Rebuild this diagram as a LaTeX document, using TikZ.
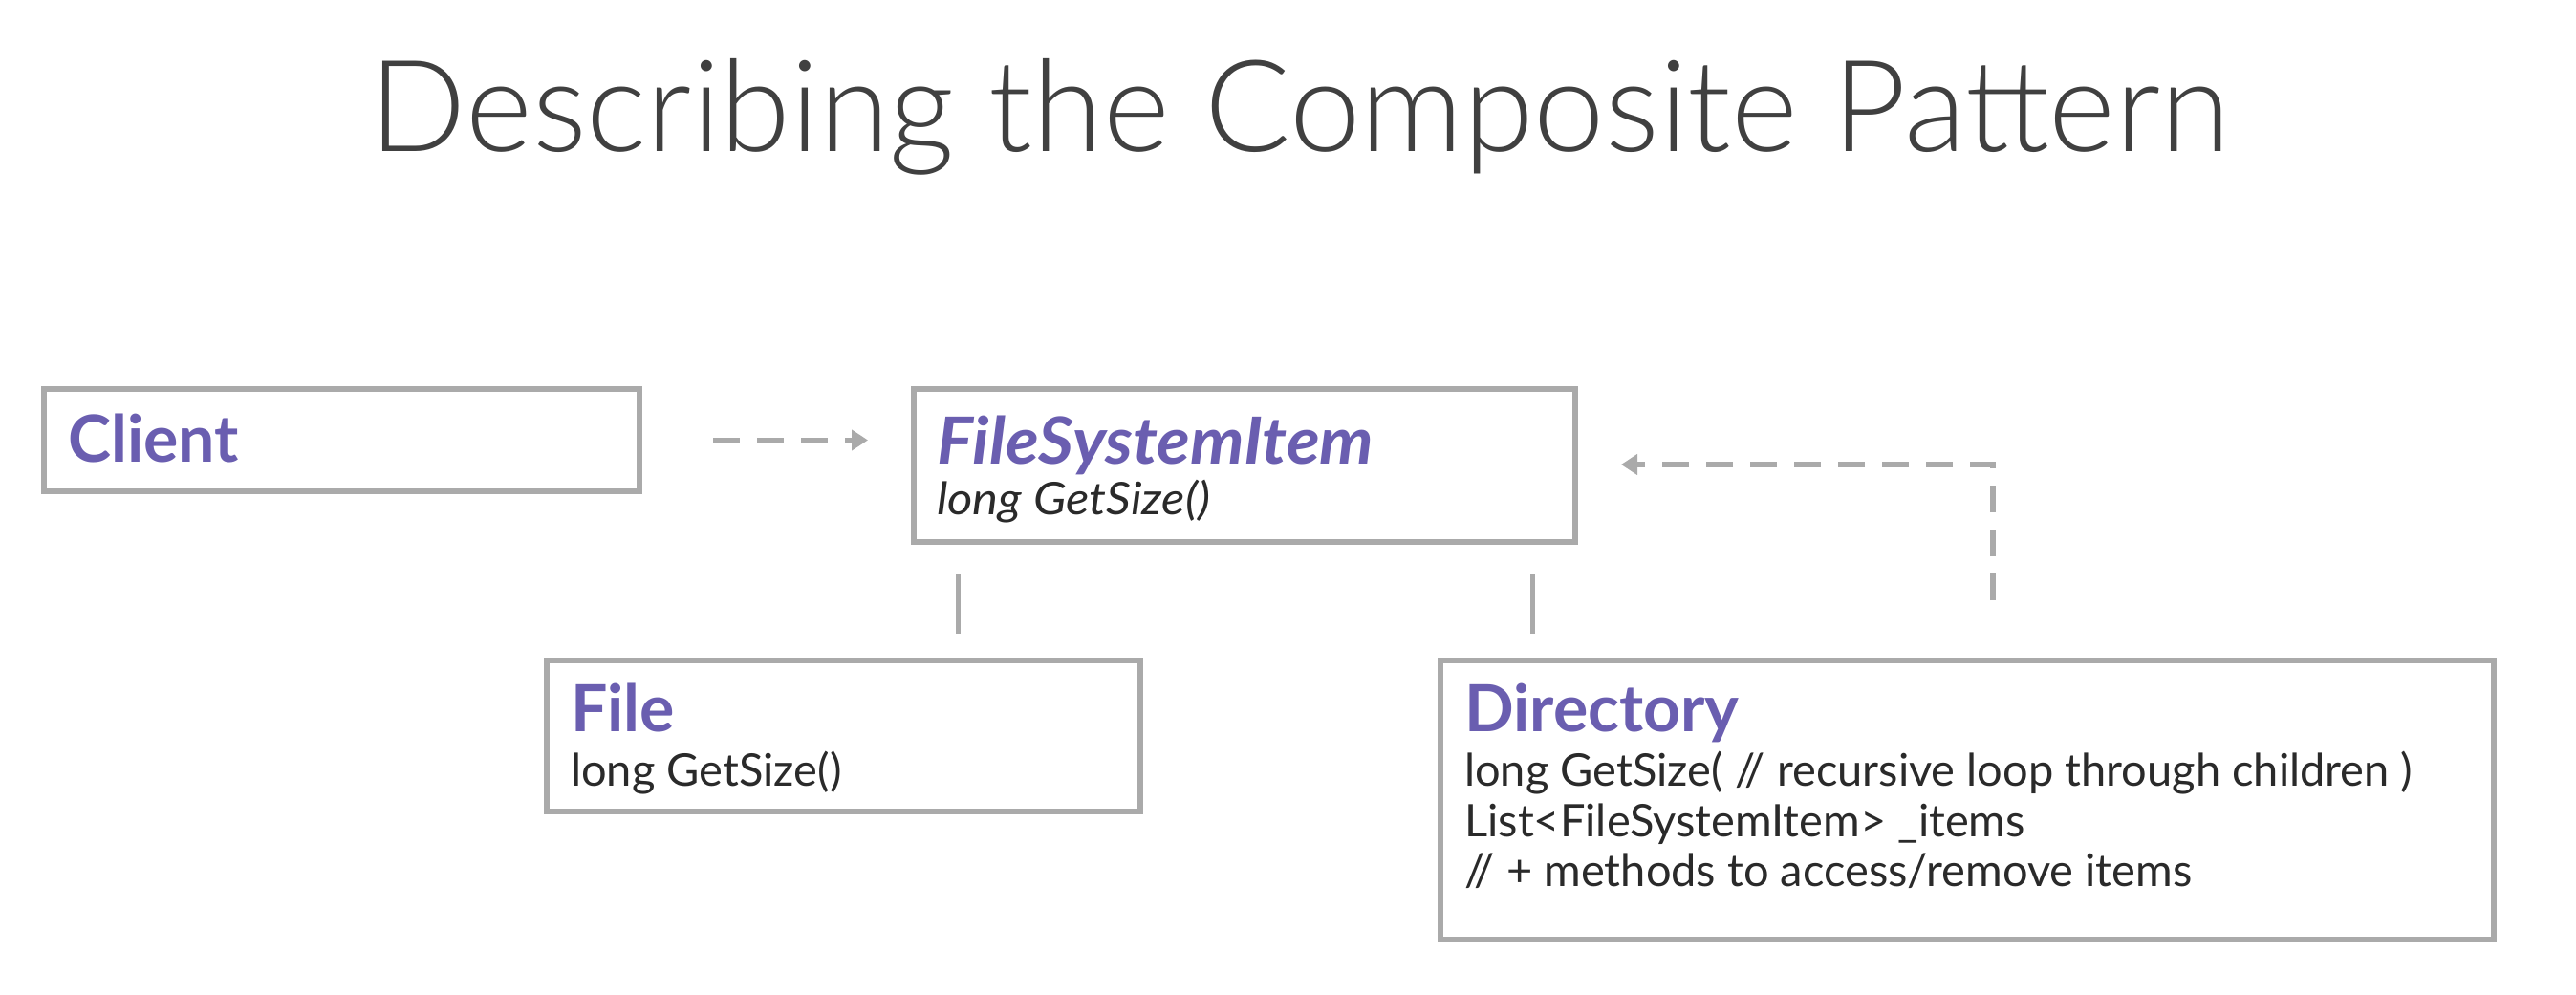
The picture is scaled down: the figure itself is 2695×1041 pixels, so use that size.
\documentclass[tikz,border=0pt]{standalone}
\usepackage{fontspec}
\setmainfont{Lato}
\newfontfamily\titlefont{Lato Light}
\usetikzlibrary{arrows.meta,calc}

\definecolor{hdpurple}{HTML}{6A5EB0}
\definecolor{linegray}{HTML}{AAAAAA}
\definecolor{titlegray}{HTML}{404040}
\definecolor{bodytext}{HTML}{2A2A2A}

\begin{document}
\begin{tikzpicture}[x=1pt,y=-1pt,
  classbox/.style={draw=linegray, line width=6pt, fill=white, inner sep=0pt},
  header/.style={anchor=base west, inner sep=0pt, text=hdpurple,
    font=\fontsize{68}{75}\selectfont\bfseries},
  member/.style={anchor=base west, inner sep=0pt, text=bodytext,
    font=\fontsize{47}{54}\selectfont},
  usage/.style={draw=linegray, line width=6pt, dash pattern=on 28pt off 18pt,
    -{Triangle[length=17pt,width=21pt]}},
  inherit/.style={draw=linegray, line width=5pt}
]
\useasboundingbox (0,0) rectangle (2695,1041);

% title
\node[anchor=base, inner sep=0pt, text=titlegray,
  font=\titlefont\fontsize{133.5}{140}\selectfont] (title) at (1360,158)
  {Describing the Composite Pattern};

% class boxes
\node[classbox, minimum width=623pt, minimum height=107pt] (client) at (357.5,460.5) {};
\node[classbox, minimum width=692pt, minimum height=160pt] (fsi) at (1302,487) {};
\node[classbox, minimum width=621pt, minimum height=158pt] (file) at (882.5,770) {};
\node[classbox, minimum width=1102pt, minimum height=292pt] (dir) at (2058,837) {};

% class names and members
\node[header] (clientname) at ($(client.north west)+(28,79)$) {Client};

\node[header, font=\fontsize{68}{75}\selectfont\bfseries\itshape\addfontfeature{FakeStretch=1.05}] (fsiname)
  at ($(fsi.north west)+(27,81)$) {FileSystemItem};
\node[member, font=\fontsize{47}{54}\selectfont\itshape\addfontfeature{FakeStretch=1.08}] (fsisize)
  at ($(fsi.north west)+(27,134)$) {long GetSize()};

\node[header] (filename) at ($(file.north west)+(28,77)$) {File};
\node[member] (filesize) at ($(file.north west)+(28,134)$) {long GetSize()};

\node[header] (dirname) at ($(dir.north west)+(28,77)$) {Directory};
\node[member] (dirsize) at ($(dir.north west)+(28,134)$)
  {long GetSize( // recursive loop through children )};
\node[member] (diritems) at ($(dir.north west)+(28,187)$)
  {List<FileSystemItem> \_items};
\node[member] (dirmethods) at ($(dir.north west)+(28,239)$)
  {// + methods to access/remove items};

% client uses the component interface
\coordinate (clientout) at ($(client.east)+(74,0)$);
\coordinate (fsiin) at ($(fsi.west |- client.east)+(-45,0)$);
\draw[usage] (clientout) -- (fsiin);

% leaf and composite both derive from the component
\coordinate (fsileafdown) at ($(fsi.south west)+(49,31)$);
\coordinate (leafup) at ($(file.north west |- fsi.south west)+(433,93)$);
\draw[inherit] (fsileafdown) -- (fsileafdown |- leafup);

\coordinate (fsicompdown) at ($(fsi.south east)+(-48,31)$);
\draw[inherit] (fsicompdown) -- ++(0,62);

% composite holds a list of components
\coordinate (dirup) at ($(dir.north west)+(581,-60)$);
\coordinate (fsiback) at ($(fsi.east)+(45,-1)$);
\draw[usage] (dirup) |- (fsiback);

\end{tikzpicture}
\end{document}
